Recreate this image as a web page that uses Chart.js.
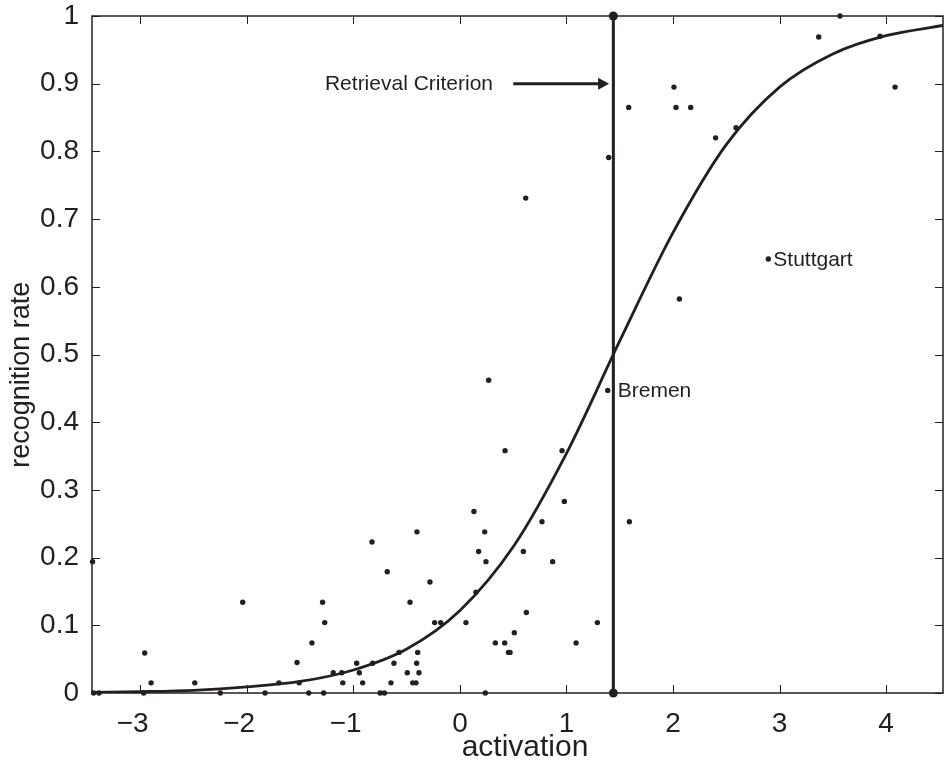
<!DOCTYPE html>
<html>
<head>
<meta charset="utf-8">
<script src="https://cdn.jsdelivr.net/npm/chart.js@4.4.1/dist/chart.umd.min.js"></script>
<style>
  html, body { margin: 0; padding: 0; background: #fff; }
</style>
</head>
<body>
<canvas id="chart" width="944" height="761"></canvas>
<script>
// values
var pointsX = [-3.45, -3.44, -3.39, -2.97, -2.96, -2.90, -2.49, -2.25, -2.04, -1.83,
               -1.70, -1.53, -1.51, -1.42, -1.39, -1.29, -1.28, -1.27, -1.19, -1.11,
               -1.10, -0.97, -0.945, -0.914, -0.826, -0.82, -0.75, -0.71, -0.683, -0.648,
               -0.62, -0.573, -0.495, -0.469, -0.444, -0.413, -0.407, -0.404, -0.397, -0.385,
               -0.282, -0.238, -0.181, 0.056, 0.131, 0.15, 0.175, 0.232, 0.238, 0.244,
               0.269, 0.332, 0.42, 0.423, 0.455, 0.47, 0.51, 0.595, 0.617, 0.623,
               0.77, 0.87, 0.958, 0.98, 1.09, 1.29, 1.387, 1.396, 1.584, 1.59,
               2.009, 2.028, 2.06, 2.166, 2.40, 2.592, 2.895, 3.368, 3.568, 3.944, 4.085];
var pointsY = [0.194, 0, 0, 0, 0.059, 0.015, 0.015, 0, 0.134, 0,
               0.015, 0.045, 0.015, 0, 0.074, 0.134, 0, 0.104, 0.030, 0.030,
               0.015, 0.044, 0.030, 0.015, 0.223, 0.044, 0, 0, 0.179, 0.015,
               0.044, 0.060, 0.030, 0.134, 0.015, 0.015, 0.044, 0.238, 0.060, 0.030,
               0.164, 0.104, 0.104, 0.104, 0.268, 0.149, 0.209, 0.238, 0, 0.194,
               0.462, 0.074, 0.074, 0.358, 0.060, 0.060, 0.089, 0.209, 0.731, 0.119,
               0.253, 0.194, 0.358, 0.283, 0.074, 0.104, 0.447, 0.791, 0.865, 0.253,
               0.895, 0.865, 0.582, 0.865, 0.820, 0.835, 0.641, 0.969, 1.0, 0.970, 0.895];

// fitted curve, read every half unit
var curveX = [-3.455, -3, -2.5, -2, -1.5, -1, -0.5, 0, 0.5, 1, 1.5, 2, 2.5, 3, 3.5, 4, 4.535];
var curveY = [0.001, 0.002, 0.004, 0.009, 0.017, 0.034, 0.065, 0.122, 0.216, 0.354, 0.52, 0.68, 0.81, 0.895, 0.944, 0.971, 0.986];

var criterionX = [1.44, 1.44];
var criterionY = [0, 1];

var xTicks = [-3, -2, -1, 0, 1, 2, 3, 4];
var yTicks = [0, 0.1, 0.2, 0.3, 0.4, 0.5, 0.6, 0.7, 0.8, 0.9, 1];

var cityNames = ['Bremen', 'Stuttgart'];
var cityX = [1.387, 2.895];
var cityY = [0.447, 0.641];
var criterionLabel = 'Retrieval Criterion';

var ink = '#231f20';
var FONT = "'Liberation Sans', Arial, Helvetica, sans-serif";

function toXY(xs, ys) {
    return xs.map(function (x, i) { return { x: x, y: ys[i] }; });
}

// box, inward ticks and the annotations (MATLAB look)
var decorations = {
    id: 'decorations',
    afterDraw: function (chart) {
        var ctx = chart.ctx, a = chart.chartArea;
        var xs = chart.scales.x, ys = chart.scales.y;
        var tl = 8;
        var labelShift = [10, 5];   // Bremen sits past the criterion line
        ctx.save();
        ctx.strokeStyle = ink;
        ctx.lineWidth = 1;
        ctx.beginPath();
        xTicks.forEach(function (v) {
            var px = Math.round(xs.getPixelForValue(v)) + 0.5;
            ctx.moveTo(px, a.bottom); ctx.lineTo(px, a.bottom - tl);
            ctx.moveTo(px, a.top); ctx.lineTo(px, a.top + tl);
        });
        yTicks.forEach(function (v) {
            var py = Math.round(ys.getPixelForValue(v)) + 0.5;
            ctx.moveTo(a.left, py); ctx.lineTo(a.left + tl, py);
            ctx.moveTo(a.right, py); ctx.lineTo(a.right - tl, py);
        });
        ctx.stroke();
        ctx.lineWidth = 1.5;
        ctx.strokeRect(a.left, a.top, a.right - a.left, a.bottom - a.top);

        // arrow and its label
        var ay = ys.getPixelForValue(0.9);
        var ax0 = xs.getPixelForValue(0.5), ax1 = xs.getPixelForValue(1.40);
        ctx.lineWidth = 3;
        ctx.beginPath();
        ctx.moveTo(ax0, ay); ctx.lineTo(ax1 - 8, ay);
        ctx.stroke();
        ctx.fillStyle = ink;
        ctx.beginPath();
        ctx.moveTo(ax1, ay); ctx.lineTo(ax1 - 11, ay - 6); ctx.lineTo(ax1 - 11, ay + 6);
        ctx.closePath();
        ctx.fill();

        ctx.font = '21px ' + FONT;
        ctx.textBaseline = 'middle';
        ctx.textAlign = 'right';
        ctx.fillText(criterionLabel, xs.getPixelForValue(0.31), ay + 1);

        ctx.textAlign = 'left';
        cityNames.forEach(function (name, i) {
            ctx.fillText(name, xs.getPixelForValue(cityX[i]) + labelShift[i], ys.getPixelForValue(cityY[i]) + 1);
        });
        ctx.restore();
    }
};

Chart.defaults.font.family = FONT;
Chart.defaults.color = ink;

var ctx = document.getElementById('chart').getContext('2d');
var myChart = new Chart(ctx, {
    type: 'scatter',
    data: {
        datasets: [
            {
                label: 'criterion',
                type: 'line',
                data: toXY(criterionX, criterionY),
                borderColor: ink,
                borderWidth: 3,
                backgroundColor: ink,
                pointRadius: 4.5,
                pointBorderWidth: 0,
                clip: false
            },
            {
                label: 'fit',
                type: 'line',
                data: toXY(curveX, curveY),
                borderColor: ink,
                borderWidth: 2.8,
                pointRadius: 0,
                cubicInterpolationMode: 'monotone',
                fill: false
            },
            {
                label: 'cities',
                data: toXY(pointsX, pointsY),
                backgroundColor: ink,
                borderWidth: 0,
                pointRadius: 2.7,
                clip: false
            }
        ]
    },
    options: {
        responsive: false,
        animation: false,
        layout: { autoPadding: false, padding: { top: 16, right: 1, left: 0, bottom: 0 } },
        plugins: {
            legend: { display: false },
            tooltip: { enabled: false }
        },
        scales: {
            x: {
                type: 'linear',
                min: -3.455,
                max: 4.535,
                afterBuildTicks: function (s) { s.ticks = xTicks.map(function (v) { return { value: v }; }); },
                afterFit: function (s) { s.height = 68; s.paddingLeft = 0; s.paddingRight = 0; },
                grid: { display: false },
                border: { display: false },
                ticks: {
                    padding: 6,
                    font: { size: 28 },
                    color: ink,
                    // minus hangs left of the digit, the digit stays on the tick
                    callback: function (v) { return v < 0 ? '\u2212' + Math.abs(v) + '\u2007' : String(v); }
                },
                title: {
                    display: true,
                    text: '\u2002activation',
                    font: { size: 30, lineHeight: 0.9 },
                    color: ink,
                    padding: { top: 0, bottom: 0 }
                }
            },
            y: {
                type: 'linear',
                min: 0,
                max: 1,
                afterBuildTicks: function (s) { s.ticks = yTicks.map(function (v) { return { value: v }; }); },
                afterFit: function (s) { s.width = 92; s.paddingTop = 0; s.paddingBottom = 0; },
                grid: { display: false },
                border: { display: false },
                ticks: {
                    padding: 5,
                    font: { size: 28 },
                    color: ink,
                    callback: function (v) { return String(Math.round(v * 10) / 10); }
                },
                title: {
                    display: true,
                    text: 'recognition rate\u2002\u2002\u2002',
                    font: { size: 27, lineHeight: 0.9 },
                    color: ink,
                    padding: { top: 9, bottom: 0 }
                }
            }
        }
    },
    plugins: [decorations]
});
</script>
</body>
</html>
